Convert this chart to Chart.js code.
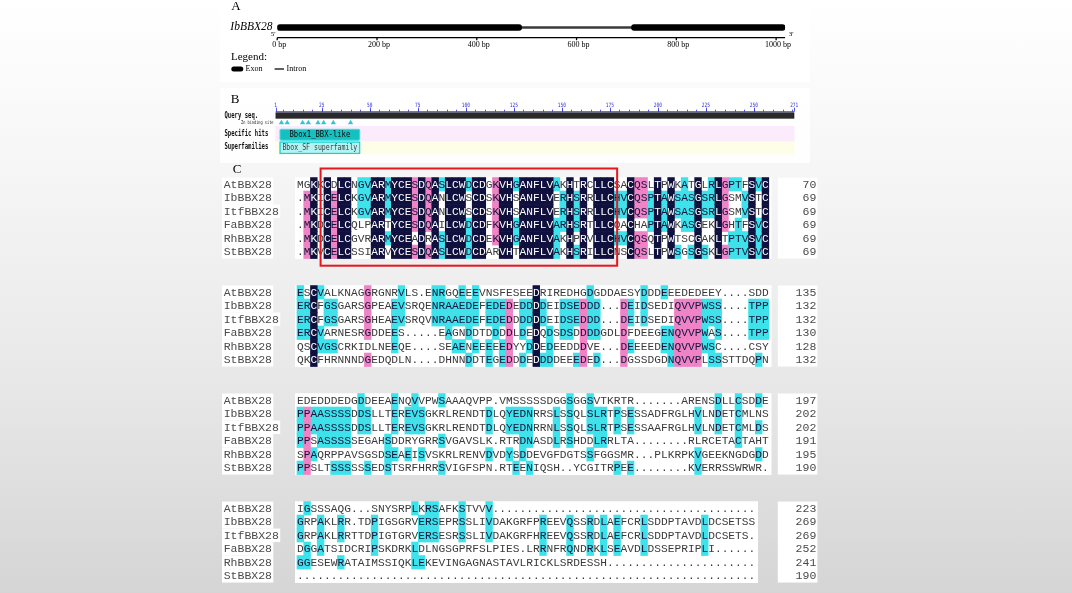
<!DOCTYPE html>
<html>
<head>
<meta charset="utf-8">
<title>IbBBX28 gene structure, domain and alignment</title>
<script src="https://cdn.jsdelivr.net/npm/chart.js@4.4.1/dist/chart.umd.min.js"></script>
<style>
  html, body { margin: 0; padding: 0; }
  body {
    width: 1072px; height: 593px; overflow: hidden; position: relative;
    background: linear-gradient(to bottom, #ffffff 0px, #f7f7f7 150px, #e8e8e8 380px, #d5d5d5 593px);
  }
  canvas { position: absolute; }
  #geneChart { left: 220px; top: 0px; width: 590px; height: 82px; }
  #domainChart { left: 220px; top: 88px; width: 590px; height: 75px; }
  #alignChart { left: 220px; top: 160px; width: 610px; height: 433px; }
</style>
</head>
<body>
<canvas id="geneChart" width="590" height="82"></canvas>
<canvas id="domainChart" width="590" height="75"></canvas>
<canvas id="alignChart" width="610" height="433"></canvas>
<script>
// ---- A: gene structure (bp) ----
const geneName = "IbBBX28";
const geneLength = 1018;
const exons = [[0, 490], [710, 1018]];
const introns = [[490, 710]];
const geneTicks = [0, 200, 400, 600, 800, 1000];

// ---- B: conserved domains (aa) ----
const queryLength = 271;
const rulerLabels = [1, 25, 50, 75, 100, 125, 150, 175, 200, 225, 250, 271];
const znSites = [4, 7, 15, 18, 23, 26, 31, 40];
const specificHit = { name: "Bbox1_BBX-like", range: [3, 45] };
const superfamily = { name: "Bbox_SF superfamily", range: [3, 45] };

// ---- C: multiple alignment ----
const gap = n => ".".repeat(n);
const seqNames = ["AtBBX28", "IbBBX28", "ItfBBX28", "FaBBX28", "RhBBX28", "StBBX28"];
const block1 = [
  "MGKKCDLCNGVARMYCESDQASLCWDCDGK" + "VHGANFLVAKHTRCLLCSACQSLTPWKATGLRLGPTFSVC",
  ".MKICELCKGVARMYCESDQANLCWSCDSK" + "VHSANFLVERHSRRLLCHVCQSPTAWSASGSRLGSMVSTC",
  ".MKICELCKGVARMYCESDQANLCWSCDSK" + "VHSANFLVERHSRRLLCHVCQSPTAWSASGSRLGSMVSTC",
  ".MKDCELCQLPARTYCESDQAILCWDCDFK" + "VHGANFLVARHSRTLLCQACHAPTAWKASGEKLGHTFSVC",
  ".MKDCELCGVRARMYCEADRASLCWDCDEK" + "VHGANFLVAKHPRVLLCHVCQSQTPWTSCGAKLTPTVSVC",
  ".MKVCELCSSIARVYCESDQASLCWDCDAR" + "VHTANFLVAKHSRILLCNSCQSLTPWSGSGSKLGPTVSVC"
];
const block2 = [
  "ESCVALKNAGGRGNRVLS.ENRGQEEEVNS" + "FESEEDRIREDHGDGDDAESYDDDEEEDEDEEY....SDD",
  "ERCFGSGARSGPEAEVSRQENRAAEDEFED" + "EDEDDDDEIDSEDDD...DEIDSEDIQVVPWSS....TPP",
  "ERCFGSGARSGHEAEVSRQVNRAAEDEFED" + "EDDDDDDEIDSEDDD...DEIDSEDIQVVPWSS....TPP",
  "ERCVARNESRGDDEES.....EAGNDDTDD" + "DDLDEDQDSDSDDDDGDLDFDEEGENQVVPWAS....TPP",
  "QSCVGSCRKIDLNEEQE....SEAENEEEE" + "EDYYDDEDEEDDDVE...DEEEEDENQVVPWSC....CSY",
  "QKCFHRNNNDGEDQDLN....DHNNDDTEG" + "EDDDEDDDDEEEDED...DGSSDGDNQVVPLSSSTTDQPN"
];
const block3 = [
  "EDEDDDEDGDDEEAENQVVPWSAAAQVPP." + "VMSSSSSDGGSGGSVTKRTR.......ARENSDLLCSDDE",
  "PPAASSSSDDSLLTEREVSGKRLRENDTDL" + "QYEDNRRSLSSQLSLRTPSESSADFRGLHVLNDETCMLNS",
  "PPAASSSSDDSLLTEREVSGKRLRENDTDL" + "QYEDNRRNLSSQLSLRTPSESSAAFRGLHVLNDETCMLDS",
  "PPSASSSSSEGAHSDDRYGRRSVGAVSLK." + "RTRDNASDLRSHDDLRRLTA........RLRCETACTAHT",
  "SPAQRPPAVSGSDSEAEISVSKRLRENVDV" + "DYSDDEVGFDGTSSFGGSMR...PLKRPKVGEEKNGDGDD",
  "PPSLTSSSSSSEDSTSRFHRRSVIGFSPN." + "RTEENIQSH..YCGITRPEE........KVERRSSWRWR."
];
const block4 = [
  "IGSSSAQG...SNYSRPLKRSAFKSTVVV." + gap(38),
  "GRPAKLRR.TDPIGSGRVERSEPRSSLIVD" + "AKGRFPREEVQSSRDLAEFCRLSDDPTAVDLDCSETSS",
  "GRPAKLRRTTDPIGTGRVERSESRSSLIVD" + "AKGRFHREEVQSSRDLAEFCRLSDDPTAVDLDCSETS.",
  "DGGATSIDCRIPSKDRKLDLNGSGPRFSLP" + "IES.LRRNFRQNDRKLSEAVDLDSSEPRIPLI......",
  "GGESEWRATAIMSSIQKLEKEVINGAGNAS" + "TAVLRICKLSRDESSH" + gap(22),
  gap(68)
];
const blockEnds = [
  [70, 69, 69, 69, 69, 69],
  [135, 132, 132, 130, 128, 132],
  [197, 202, 202, 191, 195, 190],
  [223, 269, 269, 252, 241, 190]
];
const boxedColumns = [3.5, 47.5]; // red frame round the B-box region in block 1

// ---------------------------------------------------------------
const blocks = [block1, block2, block3, block4];
const shadeColors = [null, "#3ee2ea", "#f083c5", "#10103e"];
const letterColors = ["#3a3a3a", "#14143c", "#14143c", "#ffffff"];

// 3 = identical in all, 2 = >=75%, 1 = >=50%, 0 = none
function shadeLevels(block) {
  const n = block.length;
  const levels = block.map(() => []);
  for (let c = 0; c < block[0].length; c++) {
    const counts = {};
    let best = null, bestN = 0;
    block.forEach(s => {
      const ch = s[c];
      if (ch === ".") return;
      counts[ch] = (counts[ch] || 0) + 1;
      if (counts[ch] > bestN) { bestN = counts[ch]; best = ch; }
    });
    const lv = bestN === n ? 3 : bestN >= 5 ? 2 : bestN >= 3 ? 1 : 0;
    block.forEach((s, r) => levels[r][c] = (s[c] === best ? lv : 0));
  }
  return levels;
}
const levels = blocks.map(shadeLevels);

function narrowText(ctx, text, x, y, font, sx, align) {
  ctx.save();
  ctx.font = font;
  ctx.textAlign = align || "left";
  ctx.textBaseline = "middle";
  ctx.translate(x, y);
  ctx.scale(sx, 1);
  ctx.fillText(text, 0, 0);
  ctx.restore();
}

const baseOptions = {
  responsive: false,
  animation: false,
  events: [],
  plugins: { legend: { display: false }, tooltip: { enabled: false } }
};

// ---------------- A ----------------
const genePlugin = {
  id: "geneDecor",
  beforeDraw(chart) {
    const { ctx, width, height } = chart;
    ctx.save();
    ctx.fillStyle = "#ffffff";
    ctx.fillRect(0, 0, width, height);
    ctx.restore();
  },
  afterDraw(chart) {
    const { ctx, scales: { x } } = chart;
    const axisY = 37.7;
    ctx.save();
    ctx.fillStyle = "#000";
    ctx.strokeStyle = "#000";
    ctx.textBaseline = "middle";

    ctx.font = '13px "Liberation Serif"';
    ctx.textAlign = "center";
    ctx.fillText("A", 16, 7);

    ctx.font = 'italic 11.5px "Liberation Serif"';
    ctx.textAlign = "right";
    ctx.fillText(geneName, 52.5, 26.5);

    ctx.lineWidth = 1.3;
    ctx.beginPath();
    ctx.moveTo(x.getPixelForValue(0), axisY);
    ctx.lineTo(x.getPixelForValue(geneLength), axisY);
    ctx.stroke();
    ctx.font = '8px "Liberation Serif"';
    ctx.textAlign = "center";
    geneTicks.forEach(v => {
      const px = x.getPixelForValue(v);
      ctx.beginPath();
      ctx.moveTo(px, axisY);
      ctx.lineTo(px, axisY + 2.5);
      ctx.stroke();
      ctx.fillText(v + " bp", px + 2, 45);
    });
    ctx.font = '7px "Liberation Serif"';
    ctx.fillText("5'", x.getPixelForValue(0) - 4, 34);
    ctx.fillText("3'", x.getPixelForValue(geneLength) + 6, 34);

    // legend
    ctx.textAlign = "left";
    ctx.font = '11px "Liberation Serif"';
    ctx.fillText("Legend:", 11, 57);
    ctx.beginPath();
    ctx.roundRect(11.3, 66.5, 12, 5, 2.5);
    ctx.fill();
    ctx.font = '8px "Liberation Serif"';
    ctx.fillText("Exon", 25.6, 69);
    ctx.fillStyle = "#3a3a3a";
    ctx.fillRect(54.6, 68.2, 9.4, 1.6);
    ctx.fillStyle = "#000";
    ctx.fillText("Intron", 66.6, 69);
    ctx.restore();
  }
};

new Chart(document.getElementById("geneChart"), {
  type: "bar",
  data: {
    labels: [geneName],
    datasets: [
      { label: "Exon", data: exons.map(r => ({ x: r, y: geneName })),
        backgroundColor: "#000000", barThickness: 6, borderRadius: 3,
        borderSkipped: false, grouped: false },
      { label: "Intron", data: introns.map(r => ({ x: r, y: geneName })),
        backgroundColor: "#3a3a3a", barThickness: 2, grouped: false }
    ]
  },
  options: Object.assign({}, baseOptions, {
    indexAxis: "y",
    layout: { padding: { left: 57.2, right: 24.9, top: 20, bottom: 47 } },
    scales: {
      x: { type: "linear", min: 0, max: geneLength, display: false },
      y: { type: "category", display: false }
    }
  }),
  plugins: [genePlugin]
});

// ---------------- B ----------------
const track = { ruler: 22, query: 26.3, zn: 34.5, hitRow: 47.3, hit: 47.8, sfRow: 62.5 };

const domainPlugin = {
  id: "domainDecor",
  beforeDraw(chart) {
    const { ctx, width, height } = chart;
    ctx.save();
    ctx.fillStyle = "rgba(255,255,255,0.85)";
    ctx.fillRect(0, 0, width, height);
    ctx.restore();
  },
  afterDraw(chart) {
    const { ctx, scales: { x, y } } = chart;
    ctx.save();
    ctx.fillStyle = "#000";
    ctx.textBaseline = "middle";
    ctx.font = '13px "Liberation Serif"';
    ctx.textAlign = "center";
    ctx.fillText("B", 15, 12);

    // ruler
    const ry = y.getPixelForValue(track.ruler);
    ctx.strokeStyle = "#2b2bdc";
    ctx.fillStyle = "#2b2bdc";
    ctx.lineWidth = 0.8;
    ctx.beginPath();
    ctx.moveTo(x.getPixelForValue(1), ry);
    ctx.lineTo(x.getPixelForValue(queryLength), ry);
    for (let v = 5; v < queryLength; v += 5) {
      const px = Math.round(x.getPixelForValue(v)) + 0.5;
      ctx.moveTo(px, ry - 2); ctx.lineTo(px, ry);
    }
    rulerLabels.forEach(v => {
      const px = Math.round(x.getPixelForValue(v)) + 0.5;
      ctx.moveTo(px, ry - 4); ctx.lineTo(px, ry);
    });
    ctx.stroke();
    rulerLabels.forEach(v => {
      narrowText(ctx, String(v), x.getPixelForValue(v), y.getPixelForValue(track.ruler) - 6.7,
        '6px "DejaVu Sans Mono"', 0.75, "center");
    });

    // row titles
    ctx.fillStyle = "#111";
    narrowText(ctx, "Query seq.", 4.5, y.getPixelForValue(track.query) + 0.5, 'bold 8px "DejaVu Sans Mono"', 0.7);
    narrowText(ctx, "Zn binding site", 21, y.getPixelForValue(track.zn), '5px "DejaVu Sans Mono"', 0.72);
    narrowText(ctx, "Specific hits", 4.5, y.getPixelForValue(track.hitRow), 'bold 8px "DejaVu Sans Mono"', 0.7);
    narrowText(ctx, "Superfamilies", 4.5, y.getPixelForValue(track.sfRow) - 1, 'bold 8px "DejaVu Sans Mono"', 0.7);

    // domain names
    const hx = (x.getPixelForValue(specificHit.range[0]) + x.getPixelForValue(specificHit.range[1])) / 2;
    ctx.fillStyle = "#0a0a0a";
    narrowText(ctx, specificHit.name, hx, y.getPixelForValue(track.hit), '9.5px "DejaVu Sans Mono"', 0.76, "center");
    const sx = (x.getPixelForValue(superfamily.range[0]) + x.getPixelForValue(superfamily.range[1])) / 2;
    ctx.fillStyle = "#3c3c3c";
    narrowText(ctx, superfamily.name, sx, y.getPixelForValue(track.sfRow), '8.5px "DejaVu Sans Mono"', 0.77, "center");
    ctx.restore();
  }
};

// datasets listed top-most first (Chart.js paints the last one first)
new Chart(document.getElementById("domainChart"), {
  type: "bar",
  data: {
    datasets: [
      { type: "scatter", label: "Zn binding site", data: znSites.map(v => ({ x: v, y: track.zn })),
        pointStyle: "triangle", pointRadius: 3.1, backgroundColor: "#33c5d5",
        borderColor: "#33c5d5", borderWidth: 0, clip: false },
      { label: superfamily.name, data: [{ x: superfamily.range, y: track.sfRow }],
        backgroundColor: "#b4f3f3", borderColor: "#1fd0d0", borderWidth: 1.5, borderSkipped: false,
        barThickness: 12.4, grouped: false, clip: false },
      { label: specificHit.name, data: [{ x: specificHit.range, y: track.hit }],
        backgroundColor: "#14c0c0", borderColor: "#55e2e2", borderWidth: 1.2, borderSkipped: false,
        borderRadius: 2, barThickness: 11.7, grouped: false, clip: false },
      { label: "Query seq.", data: [{ x: [1, queryLength], y: track.query }],
        backgroundColor: "#2a2a2a", borderColor: "#000", borderWidth: 0.8, borderSkipped: false,
        barThickness: 6, grouped: false, clip: false },
      { label: "superfamily row", data: [{ x: [1, queryLength], y: track.sfRow }],
        backgroundColor: "#fdfde8", barThickness: 12.4, grouped: false, clip: false },
      { label: "hits row", data: [{ x: [1, queryLength], y: track.hitRow }],
        backgroundColor: "#fcebfc", barThickness: 16, grouped: false, clip: false }
    ]
  },
  options: Object.assign({}, baseOptions, {
    indexAxis: "y",
    layout: { padding: { left: 55.7, right: 15.8, top: 0, bottom: 0 } },
    scales: {
      x: { type: "linear", min: 1, max: queryLength, display: false, offset: false },
      y: { type: "linear", min: 0, max: 75, reverse: true, display: false, offset: false }
    }
  }),
  plugins: [domainPlugin]
});

// ---------------- C ----------------
const rowsPerBlock = seqNames.length + 2;
const rowLabels = [];
blocks.forEach((blk, b) => {
  seqNames.forEach(n => rowLabels.push(n + "#" + b));
  if (b < blocks.length - 1) rowLabels.push("sp" + b + "a", "sp" + b + "b");
});

const blockBg = [];
const shadeData = [[], [], [], []];
blocks.forEach((blk, b) => {
  blk.forEach((s, r) => {
    const lab = rowLabels[b * rowsPerBlock + r];
    blockBg.push({ x: [-0.25, s.length + 0.35], y: lab });
    for (let c = 0; c < s.length; c++) {
      const lv = levels[b][r][c];
      if (lv) shadeData[lv].push({ x: [c, c + 1], y: lab });
    }
  });
});

const alignPlugin = {
  id: "alignDecor",
  beforeDatasetsDraw(chart) {
    const { ctx, scales: { x, y } } = chart;
    const rowH = y.getPixelForValue(1) - y.getPixelForValue(0);
    ctx.save();
    ctx.fillStyle = "#ffffff";
    ctx.font = '11.5px "Liberation Mono"';
    blocks.forEach((blk, b) => {
      const top = y.getPixelForValue(b * rowsPerBlock) - rowH / 2;
      const nx = x.getPixelForValue(block1[0].length) + 9;
      ctx.fillRect(nx, top, 39.6, rowH * seqNames.length);
      seqNames.forEach((n, r) => {
        ctx.fillRect(2, top + r * rowH, ctx.measureText(n).width + 3, rowH);
      });
    });
    ctx.restore();
  },
  afterDatasetsDraw(chart) {
    const { ctx, scales: { x, y } } = chart;
    ctx.save();
    ctx.textBaseline = "middle";
    ctx.textAlign = "center";
    ctx.font = '11.2px "Liberation Mono"';
    blocks.forEach((blk, b) => {
      blk.forEach((s, r) => {
        const py = y.getPixelForValue(b * rowsPerBlock + r) + 0.5;
        for (let c = 0; c < s.length; c++) {
          ctx.fillStyle = letterColors[levels[b][r][c]];
          ctx.fillText(s[c], x.getPixelForValue(c + 0.5), py);
        }
      });
    });
    ctx.font = '11.5px "Liberation Mono"';
    ctx.fillStyle = "#4a4a4a";
    blocks.forEach((blk, b) => {
      seqNames.forEach((n, r) => {
        const py = y.getPixelForValue(b * rowsPerBlock + r) + 0.5;
        ctx.textAlign = "left";
        ctx.fillText(n, 3.7, py);
        ctx.textAlign = "right";
        ctx.fillText(String(blockEnds[b][r]), x.getPixelForValue(block1[0].length) + 47.5, py);
      });
    });

    // red frame on block 1
    ctx.strokeStyle = "#e4161e";
    ctx.lineWidth = 2;
    const fx0 = x.getPixelForValue(boxedColumns[0]);
    const fx1 = x.getPixelForValue(boxedColumns[1]);
    const fy0 = y.getPixelForValue(0) - 15.8;
    const fy1 = y.getPixelForValue(seqNames.length - 1) + 13.9;
    ctx.strokeRect(fx0, fy0, fx1 - fx0, fy1 - fy0);

    ctx.fillStyle = "#000";
    ctx.textAlign = "center";
    ctx.font = '13px "Liberation Serif"';
    ctx.fillText("C", 17, 10);
    ctx.restore();
  }
};

// datasets listed top-most first (Chart.js paints the last one first)
new Chart(document.getElementById("alignChart"), {
  type: "bar",
  data: {
    labels: rowLabels,
    datasets: [
      { label: "100%", data: shadeData[3], backgroundColor: shadeColors[3] },
      { label: ">=75%", data: shadeData[2], backgroundColor: shadeColors[2] },
      { label: ">=50%", data: shadeData[1], backgroundColor: shadeColors[1] },
      { label: "block", data: blockBg, backgroundColor: "#ffffff" }
    ]
  },
  options: Object.assign({}, baseOptions, {
    indexAxis: "y",
    datasets: { bar: { grouped: false, barPercentage: 1, categoryPercentage: 1, clip: false } },
    layout: { padding: { left: 77, right: 61.2, top: 17.55, bottom: 10.45 } },
    scales: {
      x: { type: "linear", min: 0, max: block1[0].length, display: false, offset: false },
      y: { type: "category", labels: rowLabels, offset: true, display: false }
    }
  }),
  plugins: [alignPlugin]
});
</script>
</body>
</html>
